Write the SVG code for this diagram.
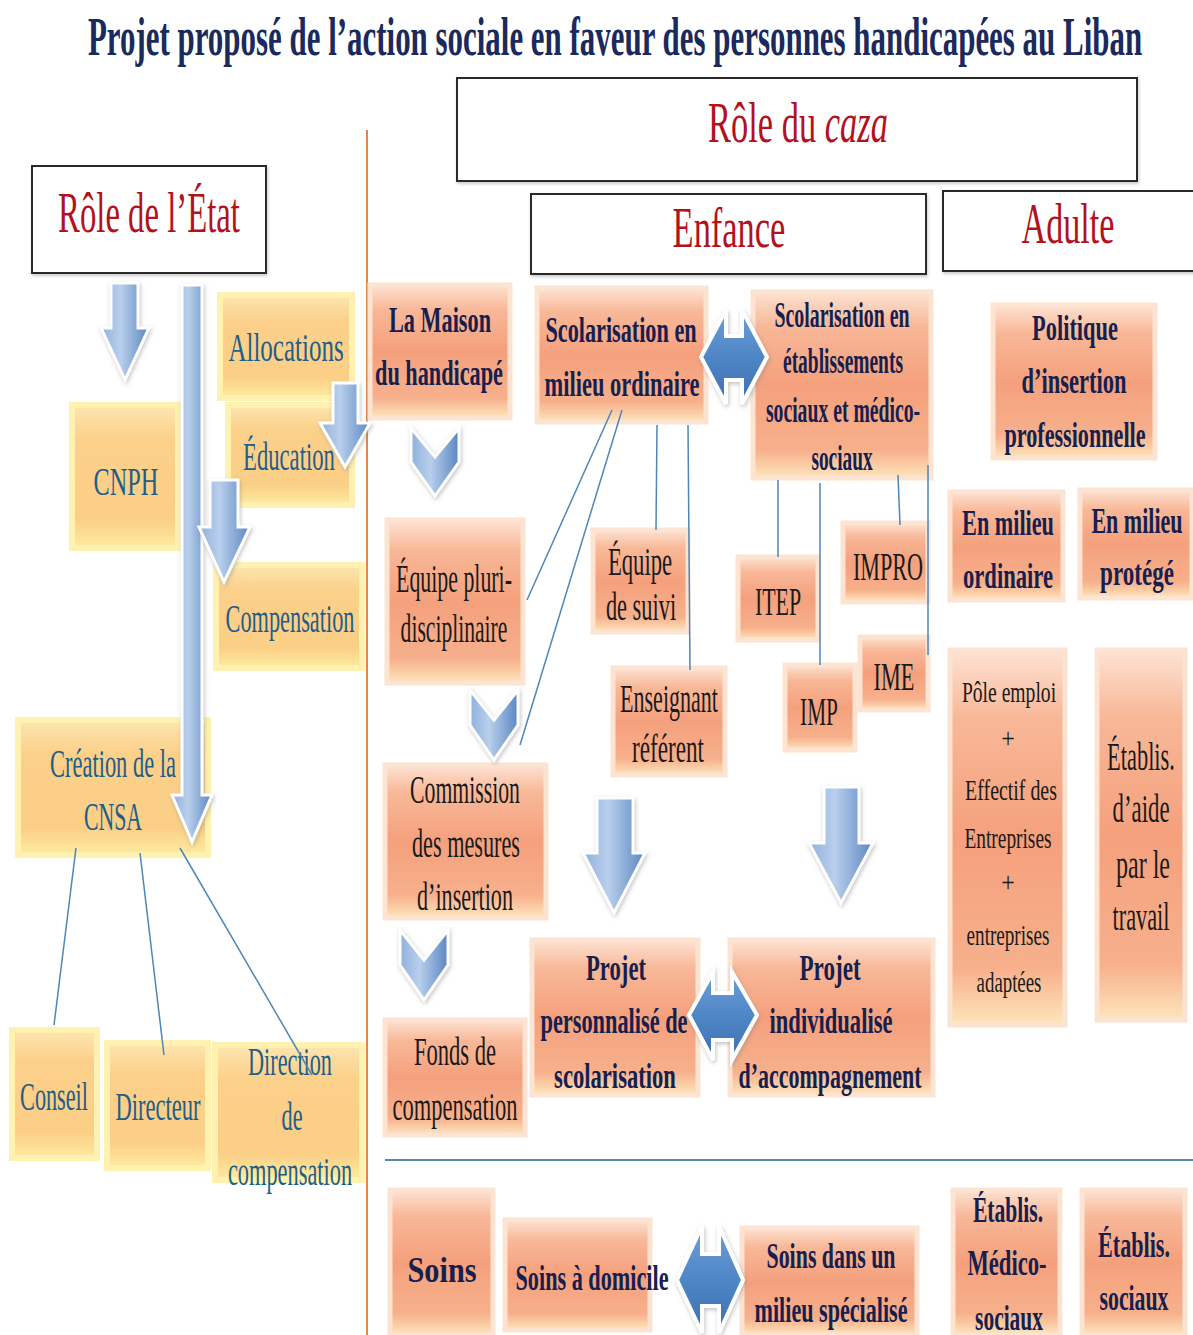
<svg xmlns="http://www.w3.org/2000/svg" width="1193" height="1335" viewBox="0 0 1193 1335">
<style>
text{font-family:"Liberation Serif","Times New Roman",serif;text-anchor:middle}
.title{font-size:54px;font-weight:bold;fill:#1b2a5c}
.red{font-size:58px;fill:#b3121c}
.hdr{fill:#fff;stroke:#2a2a2a;stroke-width:2;filter:url(#hs)}
.yb{fill:url(#gY);stroke:#fff1b0;stroke-width:6}
.sb{fill:url(#gS);stroke:#fce3d2;stroke-width:5}
.ty{font-size:40px;fill:#1e5e88}
.tn{font-size:36px;font-weight:bold;fill:#16204e}
.tk{font-size:40px;fill:#1a1a1a}
.ts{font-size:30px;fill:#1a1a1a}
.arr{fill:url(#gB);stroke:#fff;stroke-width:3;filter:url(#sh)}
.dbl{fill:url(#gD);stroke:#fff;stroke-width:4;filter:url(#sh)}
.ln{stroke:#4f86b8;stroke-width:1.5;fill:none}
</style>
<defs>
<linearGradient id="gY" x1="0" y1="0" x2="0" y2="1">
<stop offset="0" stop-color="#fde6b0"/><stop offset="0.25" stop-color="#fbd08a"/><stop offset="0.8" stop-color="#fbcf86"/><stop offset="1" stop-color="#fdeca0"/>
</linearGradient>
<linearGradient id="gS" x1="0" y1="0" x2="0" y2="1">
<stop offset="0" stop-color="#fde2d2"/><stop offset="0.18" stop-color="#f8b898"/><stop offset="0.5" stop-color="#f5a07c"/><stop offset="0.85" stop-color="#f7b08c"/><stop offset="1" stop-color="#fde6bc"/>
</linearGradient>
<linearGradient id="gB" x1="0" y1="0" x2="1" y2="0">
<stop offset="0" stop-color="#8fb0dc"/><stop offset="0.4" stop-color="#b9cfec"/><stop offset="1" stop-color="#5b86c1"/>
</linearGradient>
<linearGradient id="gD" x1="0" y1="0" x2="0" y2="1">
<stop offset="0" stop-color="#6f9fd8"/><stop offset="0.5" stop-color="#4f86c6"/><stop offset="1" stop-color="#3c6fb0"/>
</linearGradient>
<filter id="sh" x="-20%" y="-20%" width="140%" height="140%">
<feDropShadow dx="1" dy="2" stdDeviation="2" flood-color="#888" flood-opacity="0.5"/>
</filter>
<filter id="hs" x="-5%" y="-10%" width="110%" height="130%">
<feDropShadow dx="1" dy="2" stdDeviation="1.5" flood-color="#999" flood-opacity="0.5"/>
</filter>
</defs>

<rect width="1193" height="1335" fill="#fff"/>

<g id="title">
<text class="title" transform="translate(615,55) scale(0.6,1)" textLength="1757" lengthAdjust="spacingAndGlyphs">Projet proposé de l’action sociale en faveur des personnes handicapées au Liban</text>
</g>

<g id="separators">
<line x1="367" y1="130" x2="367" y2="1335" stroke="#e08848" stroke-width="2"/>
<line x1="385" y1="1160" x2="1193" y2="1160" stroke="#5a88a8" stroke-width="2"/>
</g>

<g id="role-caza"><rect class="hdr" x="457" y="78" width="680" height="103"/>
<text class="red" transform="translate(798,142) scale(0.6,1)" textLength="300" lengthAdjust="spacingAndGlyphs">Rôle du <tspan font-style="italic">caza</tspan></text></g>
<g id="role-etat"><rect class="hdr" x="32" y="166" width="234" height="107"/>
<text class="red" transform="translate(149,232) scale(0.6,1)" textLength="303" lengthAdjust="spacingAndGlyphs">Rôle de l’État</text></g>
<g id="enfance"><rect class="hdr" x="531" y="194" width="395" height="80"/>
<text class="red" transform="translate(729,247) scale(0.6,1)" textLength="188" lengthAdjust="spacingAndGlyphs">Enfance</text></g>
<g id="adulte"><rect class="hdr" x="943" y="191" width="262" height="80"/>
<text class="red" transform="translate(1068,243) scale(0.6,1)" textLength="155" lengthAdjust="spacingAndGlyphs">Adulte</text></g>

<g id="allocations"><rect class="yb" x="220" y="295" width="132" height="103"/>
<text class="ty" transform="translate(286,361) scale(0.6,1)" textLength="192" lengthAdjust="spacingAndGlyphs">Allocations</text></g>
<g id="education"><rect class="yb" x="228" y="405" width="124" height="100"/>
<text class="ty" transform="translate(289,470) scale(0.6,1)" textLength="153" lengthAdjust="spacingAndGlyphs">Éducation</text></g>
<g id="cnph"><rect class="yb" x="72" y="405" width="106" height="143"/>
<text class="ty" font-size="44" transform="translate(126,495) scale(0.6,1)" textLength="108" lengthAdjust="spacingAndGlyphs">CNPH</text></g>
<g id="compensation"><rect class="yb" x="216" y="565" width="146" height="103"/>
<text class="ty" transform="translate(290,632) scale(0.6,1)" textLength="215" lengthAdjust="spacingAndGlyphs">Compensation</text></g>
<g id="cnsa"><rect class="yb" x="18" y="720" width="190" height="135"/>
<text class="ty" transform="translate(113,777) scale(0.6,1)" textLength="210" lengthAdjust="spacingAndGlyphs">Création de la</text>
<text class="ty" transform="translate(113,830) scale(0.6,1)" textLength="97" lengthAdjust="spacingAndGlyphs">CNSA</text></g>
<g id="conseil"><rect class="yb" x="12" y="1030" width="85" height="128"/>
<text class="ty" transform="translate(54,1110) scale(0.6,1)" textLength="113" lengthAdjust="spacingAndGlyphs">Conseil</text></g>
<g id="directeur"><rect class="yb" x="107" y="1043" width="101" height="125"/>
<text class="ty" transform="translate(158,1120) scale(0.6,1)" textLength="142" lengthAdjust="spacingAndGlyphs">Directeur</text></g>
<g id="direction"><rect class="yb" x="215" y="1045" width="147" height="135"/>
<text class="ty" transform="translate(290,1075) scale(0.6,1)" textLength="140" lengthAdjust="spacingAndGlyphs">Direction</text>
<text class="ty" transform="translate(292,1130) scale(0.6,1)" textLength="35" lengthAdjust="spacingAndGlyphs">de</text>
<text class="ty" transform="translate(290,1185) scale(0.6,1)" textLength="207" lengthAdjust="spacingAndGlyphs">compensation</text></g>

<g id="maison"><rect class="sb" x="370" y="285" width="140" height="133"/>
<text class="tn" transform="translate(440,332) scale(0.6,1)" textLength="170" lengthAdjust="spacingAndGlyphs">La Maison</text>
<text class="tn" transform="translate(439,385) scale(0.6,1)" textLength="213" lengthAdjust="spacingAndGlyphs">du handicapé</text></g>
<g id="scol-ordinaire"><rect class="sb" x="537" y="288" width="169" height="134"/>
<text class="tn" transform="translate(621,342) scale(0.6,1)" textLength="252" lengthAdjust="spacingAndGlyphs">Scolarisation en</text>
<text class="tn" transform="translate(622,396) scale(0.6,1)" textLength="258" lengthAdjust="spacingAndGlyphs">milieu ordinaire</text></g>
<g id="scol-etab"><rect class="sb" x="753" y="292" width="178" height="186"/>
<text class="tn" font-size="32" transform="translate(842,327) scale(0.6,1)" textLength="225" lengthAdjust="spacingAndGlyphs">Scolarisation  en</text>
<text class="tn" font-size="32" transform="translate(843,373) scale(0.6,1)" textLength="200" lengthAdjust="spacingAndGlyphs">établissements</text>
<text class="tn" font-size="32" transform="translate(843,422) scale(0.6,1)" textLength="257" lengthAdjust="spacingAndGlyphs">sociaux et médico-</text>
<text class="tn" font-size="32" transform="translate(842,470) scale(0.6,1)" textLength="102" lengthAdjust="spacingAndGlyphs">sociaux</text></g>
<g id="equipe-pluri"><rect class="sb" x="387" y="520" width="136" height="163"/>
<text class="tk" transform="translate(454,592) scale(0.6,1)" textLength="193" lengthAdjust="spacingAndGlyphs">Équipe pluri-</text>
<text class="tk" transform="translate(454,642) scale(0.6,1)" textLength="178" lengthAdjust="spacingAndGlyphs">disciplinaire</text></g>
<g id="equipe-suivi"><rect class="sb" x="593" y="530" width="95" height="102"/>
<text class="tk" transform="translate(640,575) scale(0.6,1)" textLength="107" lengthAdjust="spacingAndGlyphs">Équipe</text>
<text class="tk" transform="translate(641,620) scale(0.6,1)" textLength="117" lengthAdjust="spacingAndGlyphs">de suivi</text></g>
<g id="enseignant"><rect class="sb" x="613" y="668" width="112" height="107"/>
<text class="tk" transform="translate(669,712) scale(0.6,1)" textLength="163" lengthAdjust="spacingAndGlyphs">Enseignant</text>
<text class="tk" transform="translate(668,762) scale(0.6,1)" textLength="120" lengthAdjust="spacingAndGlyphs">référent</text></g>
<g id="itep"><rect class="sb" x="738" y="557" width="80" height="83"/>
<text class="tk" transform="translate(778,615) scale(0.6,1)" textLength="77" lengthAdjust="spacingAndGlyphs">ITEP</text></g>
<g id="impro"><rect class="sb" x="843" y="523" width="85" height="79"/>
<text class="tk" transform="translate(888,580) scale(0.6,1)" textLength="117" lengthAdjust="spacingAndGlyphs">IMPRO</text></g>
<g id="ime"><rect class="sb" x="860" y="637" width="68" height="73"/>
<text class="tk" transform="translate(894,690) scale(0.6,1)" textLength="68" lengthAdjust="spacingAndGlyphs">IME</text></g>
<g id="imp"><rect class="sb" x="785" y="665" width="70" height="85"/>
<text class="tk" transform="translate(819,725) scale(0.6,1)" textLength="63" lengthAdjust="spacingAndGlyphs">IMP</text></g>
<g id="commission"><rect class="sb" x="385" y="765" width="161" height="153"/>
<text class="tk" transform="translate(465,803) scale(0.6,1)" textLength="183" lengthAdjust="spacingAndGlyphs">Commission</text>
<text class="tk" transform="translate(466,857) scale(0.6,1)" textLength="180" lengthAdjust="spacingAndGlyphs">des mesures</text>
<text class="tk" transform="translate(465,910) scale(0.6,1)" textLength="160" lengthAdjust="spacingAndGlyphs">d’insertion</text></g>
<g id="fonds"><rect class="sb" x="385" y="1020" width="140" height="115"/>
<text class="tk" transform="translate(455,1065) scale(0.6,1)" textLength="137" lengthAdjust="spacingAndGlyphs">Fonds de</text>
<text class="tk" transform="translate(455,1120) scale(0.6,1)" textLength="208" lengthAdjust="spacingAndGlyphs">compensation</text></g>
<g id="projet-perso"><rect class="sb" x="532" y="940" width="166" height="155"/>
<text class="tn" transform="translate(616,980) scale(0.6,1)" textLength="100" lengthAdjust="spacingAndGlyphs">Projet</text>
<text class="tn" transform="translate(614,1033) scale(0.6,1)" textLength="245" lengthAdjust="spacingAndGlyphs">personnalisé de</text>
<text class="tn" transform="translate(615,1088) scale(0.6,1)" textLength="203" lengthAdjust="spacingAndGlyphs">scolarisation</text></g>
<g id="projet-indiv"><rect class="sb" x="730" y="940" width="203" height="155"/>
<text class="tn" transform="translate(830,980) scale(0.6,1)" textLength="102" lengthAdjust="spacingAndGlyphs">Projet</text>
<text class="tn" transform="translate(831,1033) scale(0.6,1)" textLength="205" lengthAdjust="spacingAndGlyphs">individualisé</text>
<text class="tn" transform="translate(830,1088) scale(0.6,1)" textLength="305" lengthAdjust="spacingAndGlyphs">d’accompagnement</text></g>
<g id="politique"><rect class="sb" x="993" y="305" width="162" height="153"/>
<text class="tn" transform="translate(1075,340) scale(0.6,1)" textLength="143" lengthAdjust="spacingAndGlyphs">Politique</text>
<text class="tn" transform="translate(1074,393) scale(0.6,1)" textLength="175" lengthAdjust="spacingAndGlyphs">d’insertion</text>
<text class="tn" transform="translate(1075,447) scale(0.6,1)" textLength="235" lengthAdjust="spacingAndGlyphs">professionnelle</text></g>
<g id="milieu-ordinaire"><rect class="sb" x="950" y="492" width="113" height="108"/>
<text class="tn" transform="translate(1008,535) scale(0.6,1)" textLength="153" lengthAdjust="spacingAndGlyphs">En milieu</text>
<text class="tn" transform="translate(1008,588) scale(0.6,1)" textLength="150" lengthAdjust="spacingAndGlyphs">ordinaire</text></g>
<g id="milieu-protege"><rect class="sb" x="1080" y="490" width="112" height="108"/>
<text class="tn" transform="translate(1137,533) scale(0.6,1)" textLength="152" lengthAdjust="spacingAndGlyphs">En milieu</text>
<text class="tn" transform="translate(1137,585) scale(0.6,1)" textLength="123" lengthAdjust="spacingAndGlyphs">protégé</text></g>
<g id="pole-emploi"><rect class="sb" x="950" y="650" width="115" height="375"/>
<text class="ts" transform="translate(1009,702) scale(0.6,1)" textLength="157" lengthAdjust="spacingAndGlyphs">Pôle emploi</text>
<text class="ts" transform="translate(1008,748) scale(0.8,1)">+</text>
<text class="ts" transform="translate(1011,800) scale(0.6,1)" textLength="153" lengthAdjust="spacingAndGlyphs">Effectif des</text>
<text class="ts" transform="translate(1008,848) scale(0.6,1)" textLength="145" lengthAdjust="spacingAndGlyphs">Entreprises</text>
<text class="ts" transform="translate(1008,892) scale(0.8,1)">+</text>
<text class="ts" transform="translate(1008,945) scale(0.6,1)" textLength="138" lengthAdjust="spacingAndGlyphs">entreprises</text>
<text class="ts" transform="translate(1009,992) scale(0.6,1)" textLength="108" lengthAdjust="spacingAndGlyphs">adaptées</text></g>
<g id="etablis-aide"><rect class="sb" x="1097" y="650" width="88" height="370"/>
<text class="tk" font-size="38" transform="translate(1141,770) scale(0.6,1)" textLength="113" lengthAdjust="spacingAndGlyphs">Établis.</text>
<text class="tk" font-size="38" transform="translate(1141,822) scale(0.6,1)" textLength="95" lengthAdjust="spacingAndGlyphs">d’aide</text>
<text class="tk" font-size="38" transform="translate(1143,878) scale(0.6,1)" textLength="90" lengthAdjust="spacingAndGlyphs">par le</text>
<text class="tk" font-size="38" transform="translate(1141,930) scale(0.6,1)" textLength="95" lengthAdjust="spacingAndGlyphs">travail</text></g>
<g id="soins"><rect class="sb" x="390" y="1190" width="103" height="145"/>
<text class="tn" font-size="52" transform="translate(442,1282) scale(0.6,1)" textLength="115" lengthAdjust="spacingAndGlyphs">Soins</text></g>
<g id="soins-domicile"><rect class="sb" x="505" y="1220" width="145" height="110"/>
<text class="tn" transform="translate(592,1290) scale(0.6,1)" textLength="255" lengthAdjust="spacingAndGlyphs">Soins à domicile</text></g>
<g id="soins-specialise"><rect class="sb" x="742" y="1228" width="175" height="107"/>
<text class="tn" transform="translate(831,1268) scale(0.6,1)" textLength="215" lengthAdjust="spacingAndGlyphs">Soins dans un</text>
<text class="tn" transform="translate(831,1322) scale(0.6,1)" textLength="255" lengthAdjust="spacingAndGlyphs">milieu spécialisé</text></g>
<g id="etablis-medico"><rect class="sb" x="953" y="1190" width="107" height="145"/>
<text class="tn" transform="translate(1008,1222) scale(0.6,1)" textLength="117" lengthAdjust="spacingAndGlyphs">Établis.</text>
<text class="tn" transform="translate(1007,1275) scale(0.6,1)" textLength="132" lengthAdjust="spacingAndGlyphs">Médico-</text>
<text class="tn" transform="translate(1009,1330) scale(0.6,1)" textLength="113" lengthAdjust="spacingAndGlyphs">sociaux</text></g>
<g id="etablis-sociaux"><rect class="sb" x="1082" y="1190" width="103" height="145"/>
<text class="tn" transform="translate(1134,1257) scale(0.6,1)" textLength="120" lengthAdjust="spacingAndGlyphs">Établis.</text>
<text class="tn" transform="translate(1134,1310) scale(0.6,1)" textLength="115" lengthAdjust="spacingAndGlyphs">sociaux</text></g>

<g id="connectors">
<line class="ln" x1="76" y1="848" x2="54" y2="1025"/>
<line class="ln" x1="140" y1="853" x2="164" y2="1055"/>
<line class="ln" x1="180" y1="848" x2="312" y2="1075"/>
<line class="ln" x1="612" y1="410" x2="527" y2="600"/>
<line class="ln" x1="622" y1="410" x2="520" y2="745"/>
<line class="ln" x1="657" y1="425" x2="656" y2="530"/>
<line class="ln" x1="688" y1="425" x2="690" y2="670"/>
<line class="ln" x1="778" y1="480" x2="778" y2="557"/>
<line class="ln" x1="820" y1="483" x2="820" y2="665"/>
<line class="ln" x1="898" y1="475" x2="900" y2="525"/>
<line class="ln" x1="928" y1="465" x2="928" y2="655"/>
<polygon class="arr" points="111,283 138,283 138,328 149,328 125,380 101,328 111,328"/>
<polygon class="arr" points="182,285 202,285 202,795 212,795 192,842 172,795 182,795"/>
<polygon class="arr" points="333,383 358,383 358,423 370,423 345,467 320,423 333,423"/>
<polygon class="arr" points="210,480 238,480 238,527 250,527 224,582 199,527 210,527"/>
<polygon class="arr" points="597,798 633,798 633,853 645,853 614,913 583,853 597,853"/>
<polygon class="arr" points="824,787 859,787 859,843 873,843 841,903 809,843 824,843"/>
<polygon class="arr" points="411,428 435,457 459,428 459,462 435,496 411,462"/>
<polygon class="arr" points="470,690 494,720 518,690 518,725 494,760 470,725"/>
<polygon class="arr" points="400,930 424,960 448,930 448,965 424,1000 400,965"/>
<polygon class="dbl" points="701,357 726,310 726,336 742,336 742,310 767,357 742,404 742,380 726,380 726,404"/>
<polygon class="dbl" points="689,1015 713,972 713,993 732,993 732,972 757,1015 732,1060 732,1040 713,1040 713,1060"/>
<polygon class="dbl" points="677,1280 702,1226 702,1254 719,1254 719,1226 743,1280 719,1333 719,1306 702,1306 702,1333"/>
</g>
</svg>
